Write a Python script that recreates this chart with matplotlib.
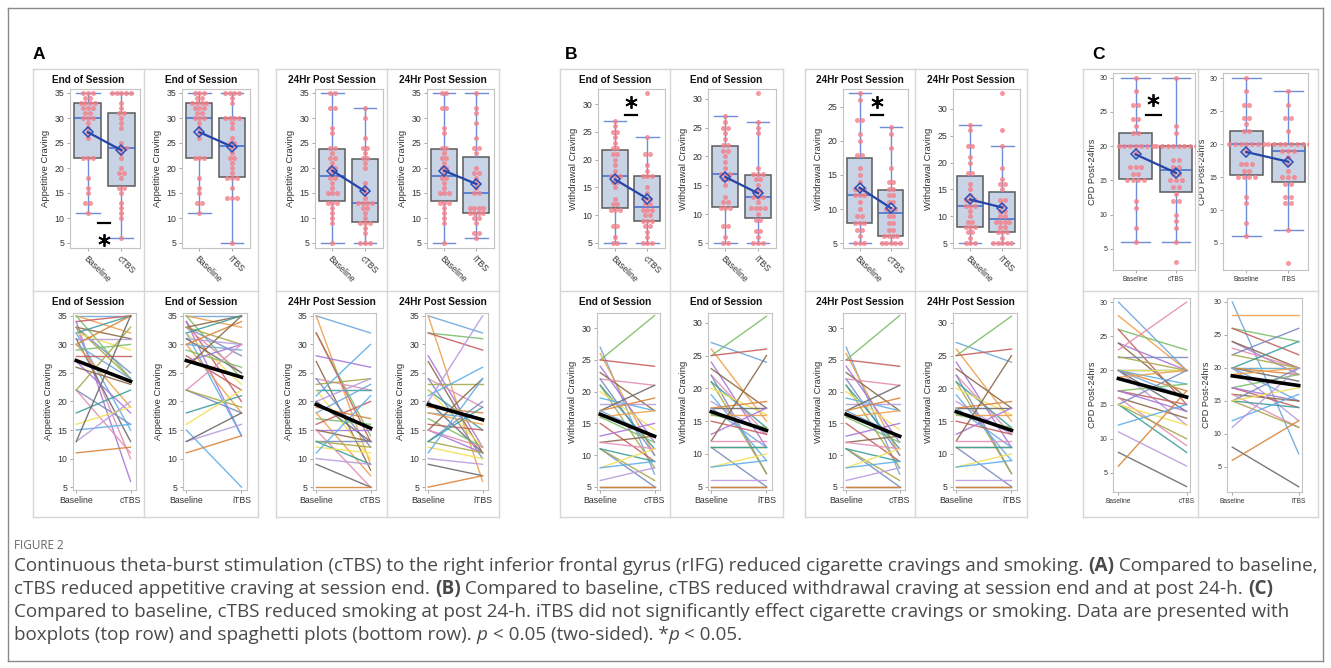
import numpy as np
import matplotlib
matplotlib.use("Agg")
import matplotlib.pyplot as plt
from matplotlib.lines import Line2D

# =====================================================
# DATA (one value per participant, same order in pre/post lists)
# =====================================================

APP_END_BASE = [35, 35, 35, 34, 34, 33, 33, 33, 33, 32, 32, 32, 31, 31, 30,
                30, 30, 29, 28, 27, 26, 22, 22, 22, 18, 16, 15, 13, 13, 11]
APP_END_CTBS = [35, 32, 24, 35, 6, 31, 10, 25, 24, 35, 29, 15, 31, 13, 35,
                24, 19, 30, 28, 18, 23, 11, 16, 33, 22, 19, 16, 20, 35, 12]
APP_END_ITBS = [35, 33, 24, 20, 14, 35, 25, 28, 30, 35, 23, 14, 30, 25, 34,
                29, 18, 26, 22, 30, 35, 30, 18, 19, 21, 22, 5, 16, 18, 14]

APP_24_BASE = [35, 35, 32, 32, 28, 27, 24, 24, 23, 22, 22, 21, 20, 20, 19,
               18, 18, 17, 16, 15, 15, 15, 13, 13, 13, 12, 11, 10, 9, 5]
APP_24_CTBS = [32, 9, 14, 13, 26, 8, 22, 12, 24, 22, 10, 30, 24, 13, 17,
               23, 7, 16, 20, 15, 13, 5, 13, 12, 9, 11, 21, 9, 5, 5]
APP_24_ITBS = [32, 6, 31, 29, 12, 11, 19, 10, 23, 15, 12, 26, 35, 11, 18,
               17, 16, 12, 15, 11, 24, 12, 20, 11, 19, 10, 24, 9, 7, 7]

WD_END_BASE = [27, 26, 25, 25, 24, 23, 22, 22, 21, 21, 20, 19, 18, 17, 17,
               17, 16, 16, 15, 13, 12, 12, 11, 11, 11, 8, 8, 6, 5, 5]
WD_END_CTBS = [7, 10, 32, 24, 12, 17, 21, 10, 8, 11, 14, 17, 18, 21, 19,
               13, 17, 12, 9, 15, 13, 11, 5, 6, 9, 11, 9, 8, 5, 5]
WD_END_ITBS = [24, 15, 31, 26, 11, 17, 13, 7, 7, 14, 16, 9, 13, 17, 18,
               11, 16, 14, 13, 17, 25, 12, 5, 11, 11, 10, 9, 6, 5, 5]

WD_24_BASE = [5, 5, 5, 6, 7, 7, 8, 8, 8, 9, 9, 10, 11, 12, 12,
              12, 13, 13, 13, 14, 15, 16, 18, 18, 20, 21, 23, 23, 26, 27]
WD_24_CTBS = [5, 5, 5, 5, 5, 6, 6, 6, 6, 7, 7, 8, 8, 9, 9,
              10, 10, 10, 11, 11, 12, 12, 13, 13, 14, 14, 16, 19, 21, 22]
WD_24_ITBS = [5, 5, 5, 5, 5, 6, 7, 7, 7, 8, 8, 9, 9, 9, 9,
              10, 10, 11, 11, 12, 13, 13, 15, 16, 16, 17, 19, 23, 26, 33]

CPD_BASE = [30, 28, 26, 26, 24, 24, 23, 22, 22, 20, 20, 20, 20, 20, 20,
            20, 19, 17, 17, 17, 16, 16, 15, 15, 15, 15, 12, 11, 8, 6]
CPD_CTBS = [20, 20, 23, 15, 20, 16, 30, 22, 20, 20, 20, 18, 12, 14, 17,
            16, 20, 18, 15, 14, 13, 9, 20, 10, 8, 12, 15, 6, 3, 17]
CPD_ITBS = [7, 28, 24, 22, 19, 20, 20, 26, 20, 24, 20, 20, 12, 18, 19,
            15, 20, 19, 14, 15, 15, 11, 20, 11, 14, 17, 16, 20, 2, 12]

CAPTION = [
    [("Continuous theta-burst stimulation (cTBS) to the right inferior frontal gyrus (rIFG) "
      "reduced cigarette cravings and smoking. ", "normal"), ("(A)", "bold"),
     (" Compared to baseline,", "normal")],
    [("cTBS reduced appetitive craving at session end. ", "normal"), ("(B)", "bold"),
     (" Compared to baseline, cTBS reduced withdrawal craving at session end and at post 24-h. ",
      "normal"), ("(C)", "bold")],
    [("Compared to baseline, cTBS reduced smoking at post 24-h. iTBS did not significantly "
      "effect cigarette cravings or smoking. Data are presented with", "normal")],
    [("boxplots (top row) and spaghetti plots (bottom row). ", "normal"), ("p", "italic"),
     (" < 0.05 (two-sided). *", "normal"), ("p", "italic"), (" < 0.05.", "normal")],
]

# =====================================================
# STYLE
# =====================================================

plt.rcParams['font.family'] = ['Liberation Sans', 'DejaVu Sans']

W, H = 1331, 668
BOX_FILL = '#c9d3e6'
BOX_EDGE = '#5a5a5a'
WHISKER = '#6d8ed6'
MEDIAN = '#4169c4'
DOT = '#f47f88'
MEAN_LINE = '#2444a8'
FRAME = '#d6d6d6'
SPINE = '#c4c4c4'
SPAG_COLORS = ['#6fa8dc', '#f0a04b', '#7cbf6a', '#c75f5f', '#a878d8', '#8b6a4a',
               '#e38fb5', '#7b8cbf', '#a9a84a', '#3f9e9e', '#f2e05a', '#5fb0e8',
               '#b99be0', '#6b6b6b', '#d9853b']
CAPTION_FONT = ['Open Sans', 'DejaVu Sans']

fig = plt.figure(figsize=(W / 100, H / 100), dpi=100)


def fig_axes(x0, y0, x1, y1):
    # pixel box (top-left origin) -> figure axes
    return fig.add_axes([x0 / W, 1 - y1 / H, (x1 - x0) / W, (y1 - y0) / H])


def fig_line(x0, y0, x1, y1, color=FRAME, lw=1.0):
    fig.add_artist(Line2D([x0 / W, x1 / W], [1 - y0 / H, 1 - y1 / H],
                          transform=fig.transFigure, color=color, lw=lw))


def fig_rect(x0, y0, x1, y1, color=FRAME, lw=1.0):
    fig_line(x0, y0, x1, y0, color, lw)
    fig_line(x1, y0, x1, y1, color, lw)
    fig_line(x1, y1, x0, y1, color, lw)
    fig_line(x0, y1, x0, y0, color, lw)


def style_axes(ax, ylim, fs):
    ax.set_ylim(ylim)
    ax.set_yticks(np.arange(5, ylim[1] + 0.01, 5))
    for s in ax.spines.values():
        s.set_color(SPINE)
        s.set_linewidth(0.8)
    ax.tick_params(length=2.5, width=0.6, color='#9a9a9a', labelsize=fs,
                   labelcolor='#333333', pad=1.5)


def draw_box(ax, base, post, post_label, ylim, ylabel, small=False):
    groups = [base, post]
    ax.boxplot(groups, positions=[0, 1], widths=0.8, patch_artist=True,
               showfliers=False, whis=1.5, capwidths=0.7,
               boxprops=dict(facecolor=BOX_FILL, edgecolor=BOX_EDGE, linewidth=1.1),
               medianprops=dict(color=MEDIAN, linewidth=1.1),
               whiskerprops=dict(color=WHISKER, linewidth=1.0),
               capprops=dict(color=WHISKER, linewidth=1.0))
    for pos, vals in enumerate(groups):
        vals = np.asarray(vals)
        for v in np.unique(vals):
            k = int(np.sum(vals == v))
            offs = (np.arange(k) - (k - 1) / 2) * 0.14
            ax.scatter(pos + offs, np.full(k, v), s=13, color=DOT, alpha=0.8,
                       lw=0, zorder=3)
    means = [np.mean(base), np.mean(post)]
    ax.plot([0, 1], means, color=MEAN_LINE, lw=1.6, zorder=4)
    ax.plot([0, 1], means, ls='none', marker='D', ms=5.5, mfc='none',
            mec='#2a4fb8', mew=1.1, zorder=5)

    fs = 5 if small else 6.3
    style_axes(ax, ylim, fs)
    ax.set_xticks([0, 1])
    if small:
        ax.set_xlim(-0.56, 1.47)
        ax.set_xticklabels(['Baseline', post_label], fontsize=4.8)
        ax.set_ylabel(ylabel, fontsize=6.6, color='#333333', labelpad=2)
    else:
        ax.set_xlim(-0.53, 1.55)
        ax.set_xticklabels(['Baseline', post_label], rotation=-45, ha='left',
                           rotation_mode='anchor', fontsize=6.3)
        ax.set_ylabel(ylabel, fontsize=6.8, color='#333333', labelpad=3)


def draw_spag(ax, base, post, post_label, ylim, ylabel, small=False):
    for i, (b, p) in enumerate(zip(base, post)):
        ax.plot([0, 1], [b, p], color=SPAG_COLORS[i % len(SPAG_COLORS)],
                lw=1.0, alpha=0.9)
    ax.plot([0, 1], [np.mean(base), np.mean(post)], color='black', lw=2.6, zorder=5)

    fs = 5 if small else 6.3
    style_axes(ax, ylim, fs)
    ax.set_xticks([0, 1])
    ax.set_xticklabels(['Baseline', post_label], fontsize=4.8 if small else 6.3)
    if small:
        ax.set_xlim(-0.08, 1.05)
        ax.set_ylabel(ylabel, fontsize=6.6, color='#333333', labelpad=2)
    else:
        ax.set_xlim(-0.06, 1.1)
        ax.set_ylabel(ylabel, fontsize=6.8, color='#333333', labelpad=3)


def sig_mark(ax, x, y_bar, y_star):
    ax.plot([x - 0.19, x + 0.19], [y_bar, y_bar], color='black', lw=1.6,
            clip_on=False, zorder=6)
    ax.plot([x], [y_star], ls='none', marker=(6, 2, 0), ms=9, color='black',
            mew=1.3, clip_on=False, zorder=6)


def cell_title(x0, x1, y, text):
    fig.text((x0 + x1) / 2 / W, 1 - y / H, text, ha='center', va='center',
             fontsize=7.2, fontweight='bold', color='#111111')


# =====================================================
# FRAMES AND PANEL LETTERS
# =====================================================

fig_rect(8, 8, 1323, 661, color='#8a8a8a', lw=1.0)

GROUPS = [(33, 144, 258), (276, 387, 499), (560, 670, 783), (805, 915, 1027),
          (1083, 1198, 1318)]
for gx0, gdiv, gx1 in GROUPS:
    fig_rect(gx0, 69, gx1, 517)
    fig_line(gdiv, 69, gdiv, 517)
    fig_line(gx0, 291, gx1, 291)

for letter, lx in [("A", 33), ("B", 565), ("C", 1092)]:
    fig.text(lx / W, 1 - 59 / H, letter, fontsize=12.5, fontweight='bold',
             ha='left', va='baseline', color='black')

# cell titles
for gx0, gdiv, gx1 in GROUPS[:4]:
    name = "End of Session" if gx0 in (33, 560) else "24Hr Post Session"
    for cx0, cx1 in [(gx0, gdiv), (gdiv, gx1)]:
        cell_title(cx0, cx1, 80, name)
        cell_title(cx0, cx1, 302, name)

# =====================================================
# PANEL A: APPETITIVE CRAVING
# =====================================================

ax = fig_axes(70, 89, 140, 248)
draw_box(ax, APP_END_BASE, APP_END_CTBS, 'cTBS', (4, 35.8), 'Appetitive Craving')
sig_mark(ax, 0.48, 9.0, 5.6)
ax = fig_axes(182, 89, 250, 248)
draw_box(ax, APP_END_BASE, APP_END_ITBS, 'iTBS', (4, 35.8), 'Appetitive Craving')
ax = fig_axes(315, 89, 383, 248)
draw_box(ax, APP_24_BASE, APP_24_CTBS, 'cTBS', (4, 35.8), 'Appetitive Craving')
ax = fig_axes(427, 89, 494, 248)
draw_box(ax, APP_24_BASE, APP_24_ITBS, 'iTBS', (4, 35.8), 'Appetitive Craving')

ax = fig_axes(73, 313, 136, 490)
draw_spag(ax, APP_END_BASE, APP_END_CTBS, 'cTBS', (4.5, 35.5), 'Appetitive Craving')
ax = fig_axes(183, 313, 247, 490)
draw_spag(ax, APP_END_BASE, APP_END_ITBS, 'iTBS', (4.5, 35.5), 'Appetitive Craving')
ax = fig_axes(313, 313, 376, 490)
draw_spag(ax, APP_24_BASE, APP_24_CTBS, 'cTBS', (4.5, 35.5), 'Appetitive Craving')
ax = fig_axes(425, 313, 488, 490)
draw_spag(ax, APP_24_BASE, APP_24_ITBS, 'iTBS', (4.5, 35.5), 'Appetitive Craving')

# =====================================================
# PANEL B: WITHDRAWAL CRAVING
# =====================================================

ax = fig_axes(598, 89, 665, 248)
draw_box(ax, WD_END_BASE, WD_END_CTBS, 'cTBS', (4.1, 32.7), 'Withdrawal Craving')
sig_mark(ax, 0.5, 28.0, 30.4)
ax = fig_axes(708, 89, 776, 248)
draw_box(ax, WD_END_BASE, WD_END_ITBS, 'iTBS', (4.1, 31.7), 'Withdrawal Craving')
ax = fig_axes(843, 89, 908, 248)
draw_box(ax, WD_24_BASE, WD_24_CTBS, 'cTBS', (4.3, 27.6), 'Withdrawal Craving')
sig_mark(ax, 0.56, 23.8, 25.7)
ax = fig_axes(953, 89, 1020, 248)
draw_box(ax, WD_24_BASE, WD_24_ITBS, 'iTBS', (4.1, 33.7), 'Withdrawal Craving')

# the published 24Hr spaghetti panels repeat the end-of-session lines
ax = fig_axes(597, 313, 660, 490)
draw_spag(ax, WD_END_BASE, WD_END_CTBS, 'cTBS', (4.5, 32.4), 'Withdrawal Craving')
ax = fig_axes(708, 313, 772, 490)
draw_spag(ax, WD_END_BASE, WD_END_ITBS, 'iTBS', (4.5, 31.5), 'Withdrawal Craving')
ax = fig_axes(843, 313, 905, 490)
draw_spag(ax, WD_END_BASE, WD_END_CTBS, 'cTBS', (4.5, 32.4), 'Withdrawal Craving')
ax = fig_axes(953, 313, 1017, 490)
draw_spag(ax, WD_END_BASE, WD_END_ITBS, 'iTBS', (4.5, 31.5), 'Withdrawal Craving')

# =====================================================
# PANEL C: CIGARETTES PER DAY
# =====================================================

ax = fig_axes(1113, 73, 1195, 270)
draw_box(ax, CPD_BASE, CPD_CTBS, 'cTBS', (1.9, 30.7), 'CPD Post-24hrs', small=True)
sig_mark(ax, 0.44, 24.6, 26.8)
ax = fig_axes(1223, 73, 1308, 270)
draw_box(ax, CPD_BASE, CPD_ITBS, 'iTBS', (0.9, 30.8), 'CPD Post-24hrs', small=True)

ax = fig_axes(1113, 298, 1190, 492)
draw_spag(ax, CPD_BASE, CPD_CTBS, 'cTBS', (2.2, 30.6), 'CPD Post-24hrs', small=True)
ax = fig_axes(1227, 298, 1302, 492)
draw_spag(ax, CPD_BASE, CPD_ITBS, 'iTBS', (1.2, 30.6), 'CPD Post-24hrs', small=True)

# =====================================================
# CAPTION
# =====================================================

renderer = fig.canvas.get_renderer()


def run_width(text, size, style):
    kw = dict(fontsize=size, color='#4a4a4a', family=CAPTION_FONT)
    if style == "bold":
        kw['fontweight'] = 'bold'
    if style == "italic":
        kw['fontstyle'] = 'italic'
    t1 = fig.text(0, 0, "|" + text + "|", **kw)
    t2 = fig.text(0, 0, "||", **kw)
    w = t1.get_window_extent(renderer).width - t2.get_window_extent(renderer).width
    t1.remove()
    t2.remove()
    return w, kw


# fit the first caption line to its width in the figure
base_size = 12.0
w0 = sum(run_width(t, base_size, s)[0] for t, s in CAPTION[0])
cap_size = base_size * 1294 / w0

fig.text(14 / W, 1 - 549 / H, "FIGURE 2", fontsize=8.5, color='#666666',
         ha='left', va='baseline', family=CAPTION_FONT)
for li, line in enumerate(CAPTION):
    x = 14
    y = 571 + li * 23
    for text, style in line:
        w, kw = run_width(text, cap_size, style)
        fig.text(x / W, 1 - y / H, text, ha='left', va='baseline', **kw)
        x += w

fig.savefig("out.png", dpi=100)
